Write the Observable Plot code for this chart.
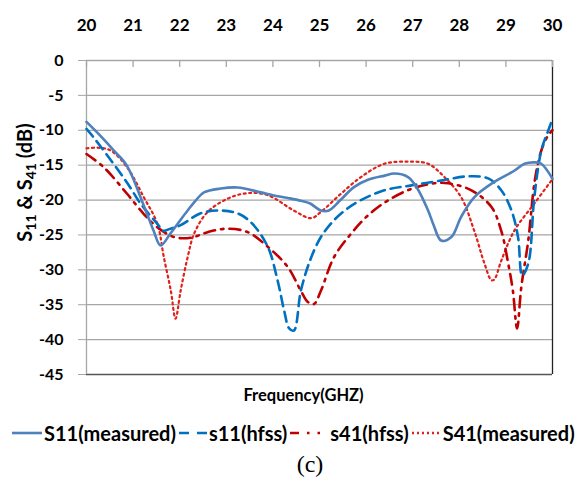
<!DOCTYPE html>
<html><head><meta charset="utf-8">
<script src="https://cdn.jsdelivr.net/npm/d3@7"></script>
<script src="https://cdn.jsdelivr.net/npm/@observablehq/plot@0.6"></script>
<style>
body{margin:0;background:#fff;font-family:Lato,"Open Sans",sans-serif;}
#wrap{width:588px;}
.legend{display:flex;justify-content:flex-start;align-items:center;font-weight:bold;font-size:20px;color:#000;margin-top:16px;padding-left:12px;white-space:nowrap;height:24px;}
.legend span{display:inline-flex;align-items:center;}
.legend svg{margin-right:2px;}
.cap{text-align:center;padding-left:32px;margin-top:6px;line-height:26px;font-family:"Liberation Serif","Times New Roman",serif;font-size:24px;color:#000;}
</style></head>
<body><div id="wrap"></div>
<script>
const xTicks = [20,21,22,23,24,25,26,27,28,29,30];
const yTicks = [0,-5,-10,-15,-20,-25,-30,-35,-40,-45];
const seriesNames = ["S11(measured)","s11(hfss)","s41(hfss)","S41(measured)"];
const seriesColors = ["#4f81bd","#0070c0","#c00000","#e0201b"];

const s11MeasX = [20,20.3,20.6,20.84,21.0,21.16,21.3,21.44,21.59,21.8,22.0,22.17,22.35,22.52,22.88,23.24,23.74,24.0,24.32,24.6,24.8,25.03,25.2,25.45,25.74,26.04,26.4,26.6,26.9,27.1,27.33,27.45,27.61,27.83,28.04,28.32,28.75,29.18,29.4,29.62,29.76,30];
const s11MeasY = [-8.8,-10.8,-13.0,-14.8,-16.9,-19.6,-22.0,-24.4,-26.5,-24.8,-23.0,-21.5,-20.0,-18.9,-18.35,-18.2,-18.9,-19.3,-19.7,-20.1,-20.5,-21.5,-21.5,-20.0,-18.15,-17.1,-16.5,-16.2,-16.7,-18.35,-21.5,-23.6,-25.8,-25.3,-22.4,-19.6,-17.4,-15.8,-14.8,-14.6,-14.8,-16.95];

const s11HfssX = [20,20.15,20.58,20.9,21.16,21.52,21.65,21.8,22.02,22.45,22.88,23.24,23.53,23.89,24.1,24.24,24.35,24.45,24.6,24.8,25.03,25.31,25.6,25.89,26.39,26.97,27.61,28.19,28.62,28.9,29.12,29.26,29.35,29.48,29.61,29.76,29.9,30];
const s11HfssY = [-9.8,-11.0,-14.8,-17.8,-20.5,-23.4,-24.4,-24.1,-23.6,-21.9,-21.5,-21.9,-23.2,-26.7,-31.5,-35.8,-38.4,-38.7,-33.0,-28.6,-25.3,-22.9,-21.2,-20.0,-18.6,-17.9,-17.2,-16.6,-16.9,-18.6,-21.5,-25.3,-30.8,-29.1,-19.6,-12.9,-10.2,-8.4];

const s41HfssX = [20,20.37,20.87,21.23,21.52,21.88,22.24,22.6,23.03,23.46,23.89,24.32,24.6,24.75,24.88,25.03,25.31,25.68,26.04,26.47,26.97,27.46,27.76,28.26,28.69,28.9,29.05,29.15,29.24,29.33,29.48,29.62,29.76,29.9,30];
const s41HfssY = [-13.4,-15.3,-19.1,-22.0,-23.9,-25.3,-25.4,-24.6,-24.1,-24.6,-26.7,-29.6,-33.0,-34.6,-34.9,-33.0,-28.2,-24.8,-22.2,-20.05,-18.4,-17.6,-17.6,-18.6,-21.0,-24.4,-29.1,-33.0,-38.4,-32.5,-25.8,-17.2,-12.9,-10.8,-10.0];

const s41MeasX = [20,20.25,20.52,20.87,21.23,21.52,21.66,21.81,21.91,22.02,22.17,22.31,22.6,23.03,23.46,23.89,24.45,24.82,25.03,25.46,25.89,26.39,26.9,27.33,27.68,28.04,28.32,28.54,28.69,28.75,28.9,29.18,29.61,30];
const s41MeasY = [-12.6,-12.5,-12.9,-15.3,-19.6,-23.4,-28.2,-33.0,-37.0,-33.0,-28.2,-24.8,-21.7,-19.8,-19.0,-19.3,-21.5,-22.6,-21.7,-19.1,-16.7,-14.8,-14.5,-14.8,-16.7,-19.6,-24.4,-29.1,-31.5,-31.4,-28.7,-24.4,-20.5,-17.0];

const xTitle = "Frequency(GHZ)";
const yTitle = "S11 & S41 (dB)";

const rows = (xs, ys, name) => xs.map((x, i) => ({x, y: ys[i], name}));
const dS11M = rows(s11MeasX, s11MeasY, seriesNames[0]);
const dS11H = rows(s11HfssX, s11HfssY, seriesNames[1]);
const dS41H = rows(s41HfssX, s41HfssY, seriesNames[2]);
const dS41M = rows(s41MeasX, s41MeasY, seriesNames[3]);

const chart = Plot.plot({
  width: 588, height: 405,
  marginTop: 60, marginLeft: 86, marginRight: 36, marginBottom: 31,
  style: {fontFamily: "Lato, 'Open Sans', sans-serif", fontWeight: "bold", fontSize: "16px", color: "#000", background: "#fff"},
  x: {domain: [20, 30]},
  y: {domain: [-45, 0]},
  marks: [
    Plot.ruleY(yTicks.filter(d => d !== -45), {stroke: "#a6a6a6", strokeWidth: 1.3}),
    Plot.ruleY([-45], {stroke: "#555", strokeWidth: 1.3}),
    Plot.ruleX([20], {stroke: "#a6a6a6", strokeWidth: 1.3}),
    Plot.ruleX([30], {stroke: "#222", strokeWidth: 1.3}),
    Plot.ruleX(xTicks, {x: d => d, y1: 0, y2: -1, stroke: "#a6a6a6", strokeWidth: 1.3}),
    Plot.axisX(xTicks, {anchor: "top", tickSize: 0, tickPadding: 30, label: null, fontSize: 17, tickFormat: d => String(d)}),
    Plot.axisY(yTicks, {anchor: "left", tickSize: 8, tickPadding: 15, stroke: "#a6a6a6", label: null, fontSize: 16, tickFormat: d => String(d)}),
    Plot.text([xTitle], {frameAnchor: "bottom", textAnchor: "middle", lineAnchor: "middle", dx: -16, dy: 21, fontSize: 16.5, fontWeight: "bold"}),
    Plot.text([yTitle], {frameAnchor: "left", textAnchor: "middle", lineAnchor: "middle", rotate: -90, dx: -61, dy: -35, fontSize: 20, fontWeight: "bold"}),
    Plot.line(dS41M, {x: "x", y: "y", stroke: seriesColors[3], strokeWidth: 2.2, strokeDasharray: "2,3.5", curve: "catmull-rom"}),
    Plot.line(dS41H, {x: "x", y: "y", stroke: seriesColors[2], strokeWidth: 2.6, strokeDasharray: "11,6,2.5,6", curve: "catmull-rom"}),
    Plot.line(dS11H, {x: "x", y: "y", stroke: seriesColors[1], strokeWidth: 2.6, strokeDasharray: "10,6", curve: "catmull-rom"}),
    Plot.line(dS11M, {x: "x", y: "y", stroke: seriesColors[0], strokeWidth: 2.6, curve: "catmull-rom"})
  ]
});
// subscripts in y title
d3.select(chart).selectAll("text").filter(function() { return this.textContent === yTitle; })
  .each(function() {
    const t = d3.select(this);
    t.text(null);
    t.append("tspan").text("S");
    t.append("tspan").attr("font-size", 14).attr("dy", 4).text("11");
    t.append("tspan").attr("dy", -4).text(" & S");
    t.append("tspan").attr("font-size", 14).attr("dy", 4).text("41");
    t.append("tspan").attr("dy", -4).text(" (dB)");
  });
const wrap = document.getElementById("wrap");
wrap.appendChild(chart);

const dashes = ["none", "10,8", "9,8,2.5,8,2.5,8", "2,3"];
const widths = [30, 28, 38, 29];
const gaps = [7, 3, 3, 3];
const leg = document.createElement("div");
leg.className = "legend";
seriesNames.forEach((n, i) => {
  const s = document.createElement("span");
  s.style.marginLeft = i === 0 ? "0px" : gaps[i] + "px";
  s.innerHTML = `<svg width="${widths[i]}" height="10"><line x1="0" y1="5" x2="${widths[i]}" y2="5" stroke="${seriesColors[i]}" stroke-width="2.6" stroke-dasharray="${dashes[i]}"/></svg>${n}`;
  leg.appendChild(s);
});
wrap.appendChild(leg);
const cap = document.createElement("div");
cap.className = "cap";
cap.textContent = "(c)";
wrap.appendChild(cap);
</script></body></html>
